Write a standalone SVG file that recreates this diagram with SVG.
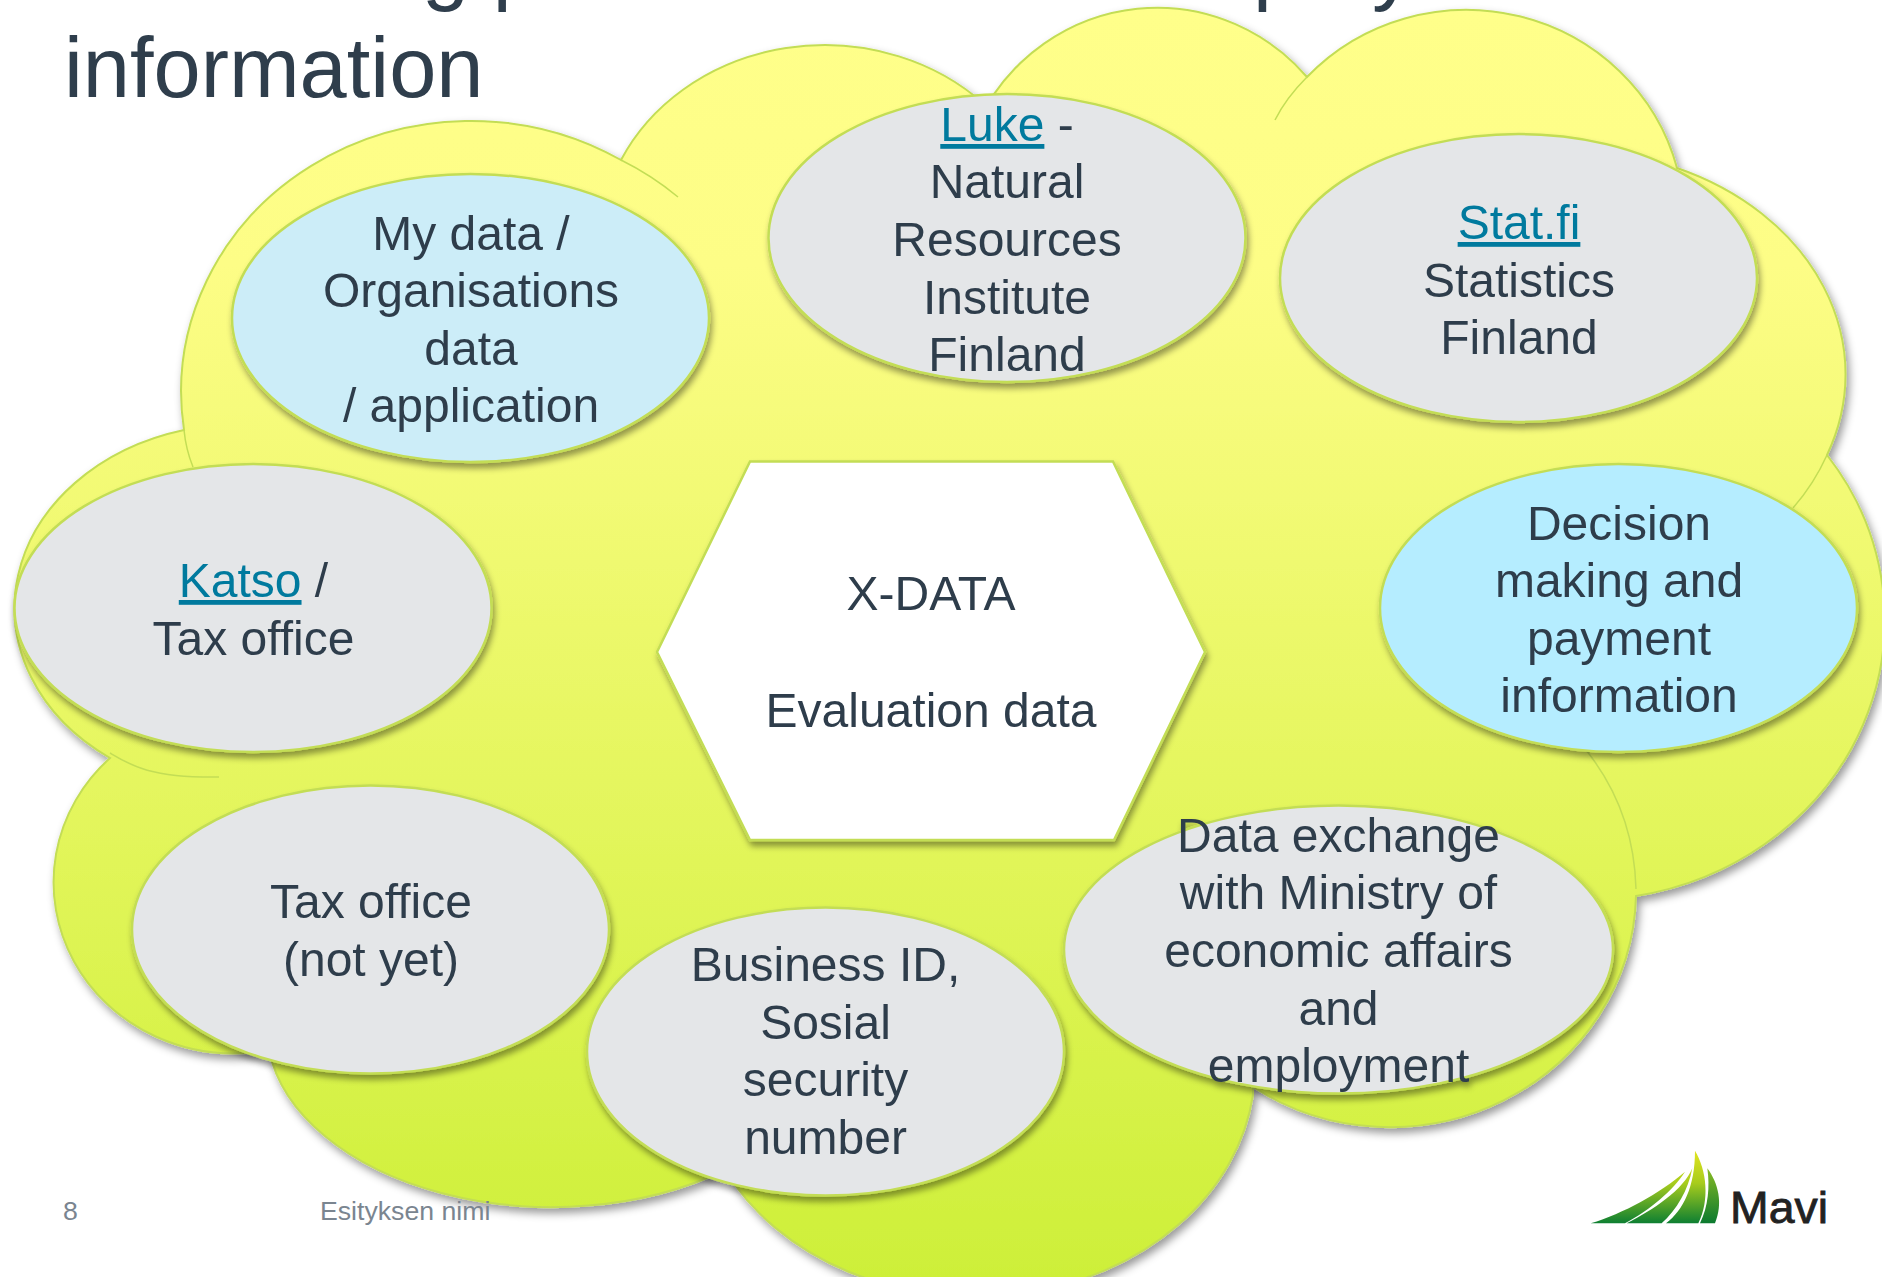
<svg xmlns="http://www.w3.org/2000/svg" width="1882" height="1277" viewBox="0 0 1882 1277">
<style>
text{font-family:"Liberation Sans",Arial,sans-serif;fill:#2f3e4c}
.t{font-size:48px;text-anchor:middle}
.l{fill:#007a9e;text-decoration:underline}
.title{font-size:84.8px}
.foot{font-size:26.67px;fill:#7a8590}
.n{stroke:#c3dd55;stroke-width:2.5}
.g{fill:#e4e6e8}
.tail{fill:none;stroke:#c3dd55;stroke-width:1.5}
</style>
<defs>
<linearGradient id="cg" gradientUnits="userSpaceOnUse" x1="0" y1="9" x2="0" y2="1290">
<stop offset="0" stop-color="#ffff8a"/><stop offset="0.2" stop-color="#fdfd86"/><stop offset="1" stop-color="#cdef38"/>
</linearGradient>
<linearGradient id="b1" gradientUnits="userSpaceOnUse" x1="0" y1="60" x2="0" y2="280">
<stop offset="0" stop-color="#e2e41f"/><stop offset="0.45" stop-color="#a8cc1c"/><stop offset="1" stop-color="#0d7f32"/>
</linearGradient>
<linearGradient id="b2" gradientUnits="userSpaceOnUse" x1="0" y1="110" x2="0" y2="280">
<stop offset="0" stop-color="#8cbc22"/><stop offset="1" stop-color="#0b7a30"/>
</linearGradient>
<filter id="sc" x="-5%" y="-5%" width="110%" height="110%"><feDropShadow dx="3" dy="5" stdDeviation="4" flood-color="#000" flood-opacity="0.4"/></filter>
<filter id="sn" x="-5%" y="-5%" width="110%" height="112%"><feDropShadow dx="2" dy="5" stdDeviation="3" flood-color="#000" flood-opacity="0.4"/></filter>
</defs>
<g id="title">
<text class="title" x="64" y="97">information</text>
<text class="title" x="422" y="-6">g p</text>
<text class="title" x="1253" y="-6">p</text>
<text class="title" x="1372" y="-6">y</text>
</g>
<g id="cloud">
<path filter="url(#sc)" fill="url(#cg)" stroke="#c3dd55" stroke-width="2" d="M184 430A290 271 0 0 1 621 160A225 200 0 0 1 984 104L984 110A200 205 0 0 1 1307 77A218 212 0 0 1 1677 168A276 224 0 0 1 1827 455A300 280 0 0 1 1636 896A246 237 0 0 1 1253 1087L1253 1095A280 230 0 0 1 725 1170A285 180 0 0 1 269 1050A180 171 0 0 1 110 758A227 184 0 0 1 184 430Z"/>
<path class="tail" d="M621 160A290 271 0 0 1 678 197"/>
<path class="tail" d="M184 430Q186 450 193 467"/>
<path class="tail" d="M1307 77Q1286 98 1275 120"/>
<path class="tail" d="M1827 455Q1814 484 1793 508"/>
<path class="tail" d="M1636 889Q1634 810 1586 750"/>
<path class="tail" d="M110 753C130 765 150 778 219 777"/>
</g>
<g id="hexagon" filter="url(#sn)">
<polygon class="n" fill="#fff" points="750,461.500 1113,461.500 1205,652 1114,840 750,840 657,652"/>
<text class="t" x="931" y="610">X-DATA</text>
<text class="t" x="931" y="727">Evaluation data</text>
</g>
<g id="node-mydata" filter="url(#sn)">
<ellipse class="n" fill="#ccedf8" cx="470.500" cy="318" rx="238.500" ry="144"/>
<text class="t" x="471" y="250">My data /</text>
<text class="t" x="471" y="307">Organisations</text>
<text class="t" x="471" y="365">data</text>
<text class="t" x="471" y="422">/ application</text>
</g>
<g id="node-luke" filter="url(#sn)">
<ellipse class="n g" cx="1007" cy="238" rx="238.500" ry="144"/>
<text class="t" x="1007" y="141"><tspan class="l">Luke</tspan> -</text>
<text class="t" x="1007" y="198">Natural</text>
<text class="t" x="1007" y="256">Resources</text>
<text class="t" x="1007" y="314">Institute</text>
<text class="t" x="1007" y="371">Finland</text>
</g>
<g id="node-stat" filter="url(#sn)">
<ellipse class="n g" cx="1518.500" cy="278" rx="238.500" ry="144"/>
<text class="t l" x="1519" y="239">Stat.fi</text>
<text class="t" x="1519" y="297">Statistics</text>
<text class="t" x="1519" y="354">Finland</text>
</g>
<g id="node-decision" filter="url(#sn)">
<ellipse class="n" fill="#b5edff" cx="1618.500" cy="608" rx="238.500" ry="144"/>
<text class="t" x="1619" y="540">Decision</text>
<text class="t" x="1619" y="597">making and</text>
<text class="t" x="1619" y="655">payment</text>
<text class="t" x="1619" y="712">information</text>
</g>
<g id="node-katso" filter="url(#sn)">
<ellipse class="n g" cx="253" cy="608" rx="238.500" ry="144"/>
<text class="t" x="253.500" y="597"><tspan class="l">Katso</tspan> /</text>
<text class="t" x="253.500" y="655">Tax office</text>
</g>
<g id="node-tax" filter="url(#sn)">
<ellipse class="n g" cx="370.500" cy="929.500" rx="238.500" ry="144"/>
<text class="t" x="371" y="918">Tax office</text>
<text class="t" x="371" y="976">(not yet)</text>
</g>
<g id="node-business" filter="url(#sn)">
<ellipse class="n g" cx="825.500" cy="1051.500" rx="238.500" ry="144"/>
<text class="t" x="825.500" y="981">Business ID,</text>
<text class="t" x="825.500" y="1039">Sosial</text>
<text class="t" x="825.500" y="1096">security</text>
<text class="t" x="825.500" y="1154">number</text>
</g>
<g id="node-exchange" filter="url(#sn)">
<ellipse class="n g" cx="1338.500" cy="949.500" rx="274.500" ry="144"/>
<text class="t" x="1338.500" y="852">Data exchange</text>
<text class="t" x="1338.500" y="909">with Ministry of</text>
<text class="t" x="1338.500" y="967">economic affairs</text>
<text class="t" x="1338.500" y="1025">and</text>
<text class="t" x="1338.500" y="1082">employment</text>
</g>
<g id="footer">
<text class="foot" x="63" y="1220">8</text>
<text class="foot" x="320" y="1220">Esityksen nimi</text>
</g>
<g id="logo">
<g transform="translate(1560 1130) scale(0.3333)">
<path fill="url(#b1)" d="M92 280C190 250 300 190 375 125C340 180 270 240 195 280Z"/>
<path fill="url(#b1)" d="M200 280C280 240 370 180 397 115C385 180 350 240 305 280Z"/>
<path fill="url(#b1)" d="M318 280C370 240 405 170 405 62C440 120 450 210 415 280Z"/>
<path fill="url(#b2)" d="M442 115C475 160 490 220 465 280L420 280C445 230 450 170 442 115Z"/>
</g>
<text x="1730" y="1223" font-size="45" textLength="98" lengthAdjust="spacingAndGlyphs" style="fill:#222;stroke:#222;stroke-width:0.8">Mavi</text>
</g>
</svg>
